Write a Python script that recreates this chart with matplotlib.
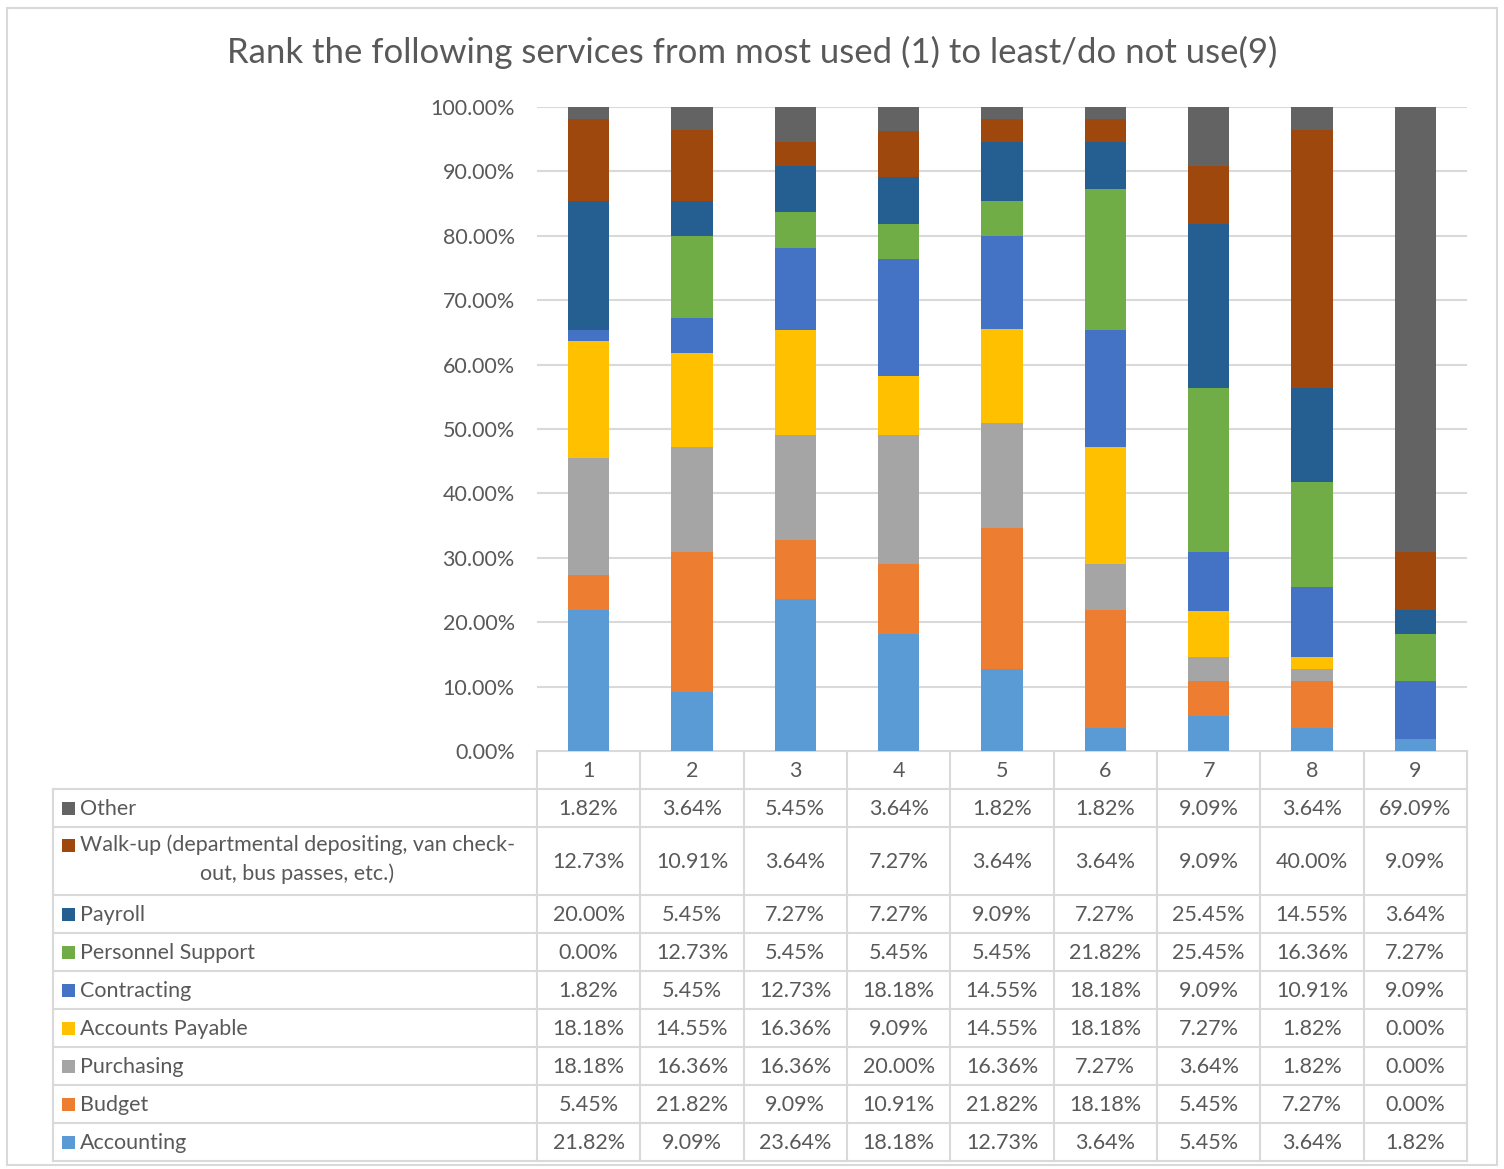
import matplotlib
matplotlib.use('Agg')
import matplotlib.pyplot as plt
import numpy as np

plt.rcParams['font.family'] = ['Lato', 'DejaVu Sans']

ranks = ['1', '2', '3', '4', '5', '6', '7', '8', '9']
services = ['Accounting', 'Budget', 'Purchasing', 'Accounts Payable', 'Contracting',
            'Personnel Support', 'Payroll',
            'Walk-up (departmental depositing, van check-\nout, bus passes, etc.)', 'Other']
accounting = [21.82, 9.09, 23.64, 18.18, 12.73, 3.64, 5.45, 3.64, 1.82]
budget = [5.45, 21.82, 9.09, 10.91, 21.82, 18.18, 5.45, 7.27, 0.00]
purchasing = [18.18, 16.36, 16.36, 20.00, 16.36, 7.27, 3.64, 1.82, 0.00]
accounts_payable = [18.18, 14.55, 16.36, 9.09, 14.55, 18.18, 7.27, 1.82, 0.00]
contracting = [1.82, 5.45, 12.73, 18.18, 14.55, 18.18, 9.09, 10.91, 9.09]
personnel = [0.00, 12.73, 5.45, 5.45, 5.45, 21.82, 25.45, 16.36, 7.27]
payroll = [20.00, 5.45, 7.27, 7.27, 9.09, 7.27, 25.45, 14.55, 3.64]
walk_up = [12.73, 10.91, 3.64, 7.27, 3.64, 3.64, 9.09, 40.00, 9.09]
other = [1.82, 3.64, 5.45, 3.64, 1.82, 1.82, 9.09, 3.64, 69.09]
yticks = [0, 10, 20, 30, 40, 50, 60, 70, 80, 90, 100]

series = [accounting, budget, purchasing, accounts_payable, contracting,
          personnel, payroll, walk_up, other]
colors = ['#5B9BD5', '#ED7D31', '#A5A5A5', '#FFC000', '#4472C4',
          '#70AD47', '#255E91', '#9E480E', '#636363']

W, H = 1504, 1169
txt = '#595959'
grid = '#D9D9D9'
fs = 15.5

fig = plt.figure(figsize=(W / 100, H / 100), dpi=100)

# Marco exterior del grafico
over = fig.add_axes([0, 0, 1, 1])
over.set_xlim(0, W)
over.set_ylim(H, 0)
over.axis('off')
over.add_patch(plt.Rectangle((7, 8), 1490, 1157, fill=False, ec=grid, lw=1.5))

# Area de trazado
px0, px1, py_top, py_bot = 537, 1467, 107, 751
ax = fig.add_axes([px0 / W, 1 - py_bot / H, (px1 - px0) / W, (py_bot - py_top) / H])
x = np.arange(len(ranks))
bottom = np.zeros(len(ranks))
for vals, c in zip(series, colors):
    ax.bar(x, vals, 0.4, bottom=bottom, color=c, zorder=3)
    bottom += np.array(vals)

ax.set_xlim(-0.5, len(ranks) - 0.5)
ax.set_ylim(0, 100)
ax.set_yticks(yticks)
ax.set_yticklabels([f'{v:.2f}%' for v in yticks], fontsize=fs, color=txt)
ax.tick_params(axis='y', length=0, pad=16)
ax.set_xticks([])
ax.grid(axis='y', color=grid, lw=1.5, zorder=0)
for s in ax.spines.values():
    s.set_visible(False)

fig.text(752 / W, 1 - 52 / H, 'Rank the following services from most used (1) to least/do not use(9)',
         ha='center', va='center', fontsize=25, color=txt)

# Tabla de datos debajo del grafico
colw = (px1 - px0) / len(ranks)
lab_x0 = 53
row_h = 38
lw = 1.5

# fila de encabezado
over.plot([px0, px1], [py_bot, py_bot], color=grid, lw=lw)
for i, r in enumerate(ranks):
    over.text(px0 + colw * (i + 0.5), py_bot + row_h / 2 + 1, r, ha='center', va='center',
              fontsize=fs, color=txt)

y = py_bot + row_h
over.plot([lab_x0, px1], [y, y], color=grid, lw=lw)
for name, vals, c in zip(services[::-1], series[::-1], colors[::-1]):
    multi = '\n' in name
    h = row_h + 30 * name.count('\n')
    cy = y + h / 2
    over.add_patch(plt.Rectangle((62, (y + 12) if multi else (cy - 6.5)), 13, 13,
                                 color=c, lw=0))
    over.text(80, (y + 7) if multi else (cy + 1), name, ha='left',
              va='top' if multi else 'center', multialignment='center',
              fontsize=fs, color=txt, linespacing=1.55)
    for i, v in enumerate(vals):
        over.text(px0 + colw * (i + 0.5), cy + 1, f'{v:.2f}%', ha='center', va='center',
                  fontsize=fs, color=txt)
    y += h
    over.plot([lab_x0, px1], [y, y], color=grid, lw=lw)

for i in range(len(ranks) + 1):
    over.plot([px0 + colw * i] * 2, [py_bot, y], color=grid, lw=lw)
over.plot([lab_x0, lab_x0], [py_bot + row_h, y], color=grid, lw=lw)

fig.savefig('out.png', dpi=100)
plt.close(fig)
